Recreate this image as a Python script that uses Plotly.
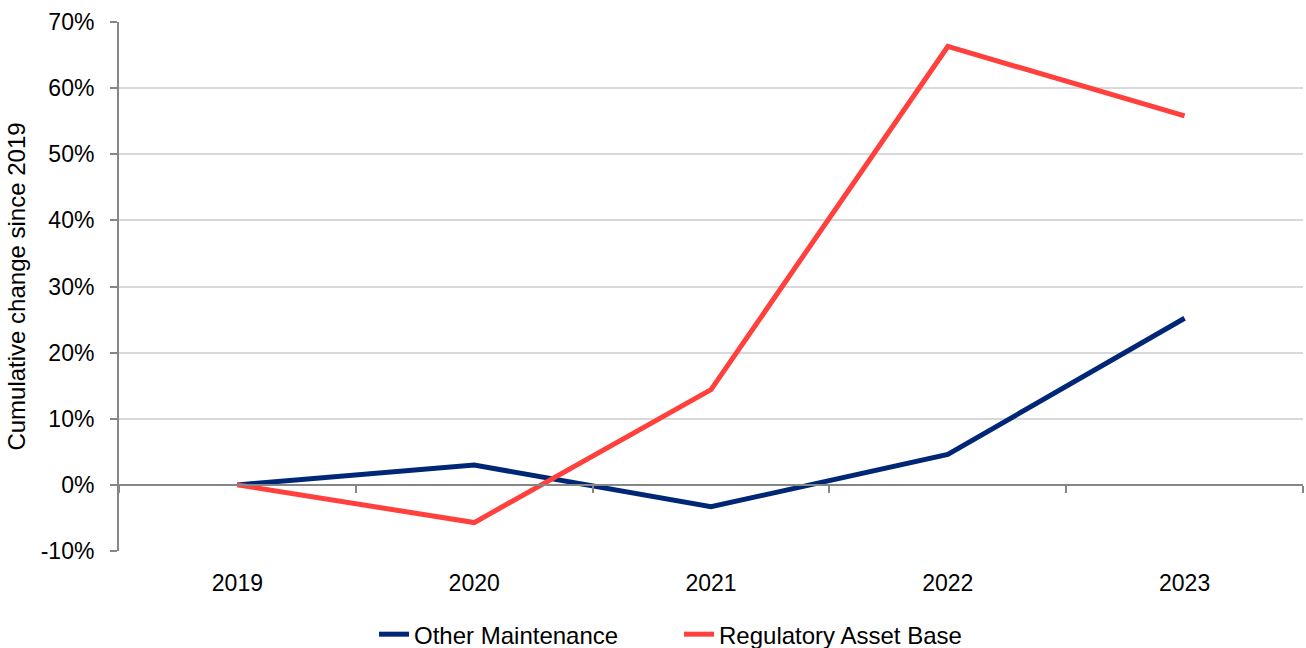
import plotly.graph_objects as go

years = ["2019", "2020", "2021", "2022", "2023"]
other_maintenance = [0.0, 0.030, -0.033, 0.046, 0.252]
regulatory_asset_base = [0.0, -0.057, 0.144, 0.663, 0.558]
pct_ticks = [-0.1, 0.0, 0.1, 0.2, 0.3, 0.4, 0.5, 0.6, 0.7]

y_min, y_max = -0.10, 0.70
navy = "#002776"
red = "#FF403D"
axis_grey = "#868686"
grid_grey = "#d9d9d9"
font_family = "Liberation Sans, Arial, sans-serif"

fig = go.Figure()
fig.add_trace(go.Scatter(
    x=years, y=other_maintenance, mode="lines", name="Other Maintenance",
    line=dict(color=navy, width=5),
))
fig.add_trace(go.Scatter(
    x=years, y=regulatory_asset_base, mode="lines", name="Regulatory Asset Base",
    line=dict(color=red, width=5),
))
# empty trace so the 0% category axis (x2) gets rendered
fig.add_trace(go.Scatter(
    x=[], y=[], xaxis="x2", yaxis="y", showlegend=False, hoverinfo="skip",
))

# category boundaries for the tick marks along the 0% axis
boundaries = [i - 0.5 for i in range(len(years) + 1)]
zero_pos = (0 - y_min) / (y_max - y_min)
pct_labels = [f"{round(v * 100)}%" for v in pct_ticks]

fig.update_layout(
    width=1306, height=648,
    margin=dict(l=119, r=3, t=22, b=97, autoexpand=False),
    paper_bgcolor="white", plot_bgcolor="white",
    font=dict(family=font_family, size=23, color="#000000"),
    showlegend=True,
    legend=dict(
        orientation="h", xref="paper", yref="paper",
        x=0.473, xanchor="center", y=-0.158, yanchor="middle",
        font=dict(size=24), tracegroupgap=0,
        entrywidth=260, entrywidthmode="pixels",
    ),
    xaxis=dict(
        type="category", range=[-0.5, len(years) - 0.5],
        showgrid=False, showline=False, zeroline=False, ticks="",
        ticklabelstandoff=16,
    ),
    xaxis2=dict(
        overlaying="x", anchor="free", position=zero_pos,
        range=[-0.5, len(years) - 0.5], tickvals=boundaries,
        showticklabels=False, showgrid=False, zeroline=False,
        showline=True, linecolor=axis_grey, linewidth=2,
        ticks="outside", ticklen=7, tickwidth=2, tickcolor=axis_grey,
    ),
    yaxis=dict(
        range=[y_min, y_max], tickvals=pct_ticks, ticktext=pct_labels,
        showgrid=True, gridcolor=grid_grey, gridwidth=2,
        zeroline=False, showline=True, linecolor=axis_grey, linewidth=2,
        ticks="outside", ticklen=7, tickwidth=2, tickcolor=axis_grey,
        ticklabelstandoff=11,
        title=dict(text="Cumulative change since 2019", standoff=8,
                   font=dict(size=24)),
    ),
)

fig.write_html("out.html")
